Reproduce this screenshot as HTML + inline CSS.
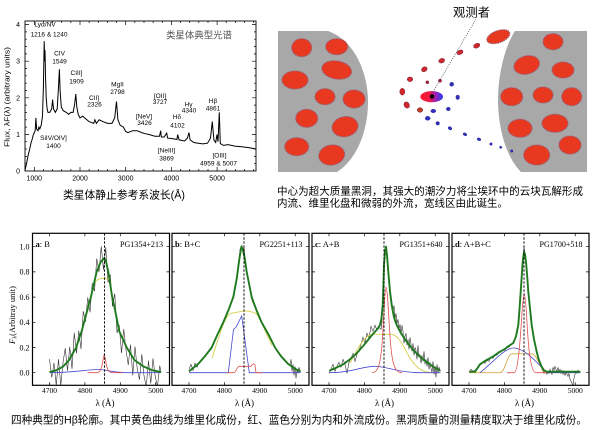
<!DOCTYPE html>
<html><head><meta charset="utf-8"><style>
html,body{margin:0;padding:0;background:#fff;}
svg{display:block;}
.cj{font-family:"Liberation Sans","Noto Sans CJK SC",sans-serif;}
.sf{font-family:"Liberation Serif","DejaVu Serif",serif;}
.ss{font-family:"Liberation Sans",sans-serif;}
</style></head><body>
<svg width="600" height="430" viewBox="0 0 600 430" xmlns="http://www.w3.org/2000/svg">
<defs>
<linearGradient id="bh" x1="0" x2="1" y1="0" y2="0">
<stop offset="0" stop-color="#ff1a2a"/><stop offset="0.4" stop-color="#ee1a40"/><stop offset="0.65" stop-color="#a020b0"/><stop offset="1" stop-color="#2040ff"/>
</linearGradient>
<clipPath id="pc"><rect x="0" y="0" width="137" height="152"/></clipPath>
</defs>
<rect width="600" height="430" fill="#fff"/>

<!-- ===== Spectrum plot ===== -->
<rect x="25" y="21" width="231" height="150" fill="none" stroke="#000" stroke-width="0.9"/>
<path d="M25.2,171v-2M43.4,171v-2M52.6,171v-2M61.7,171v-2M70.9,171v-2M89.1,171v-2M98.3,171v-2M107.4,171v-2M116.6,171v-2M134.8,171v-2M144,171v-2M153.1,171v-2M162.3,171v-2M180.5,171v-2M189.7,171v-2M198.8,171v-2M208,171v-2M226.2,171v-2M235.4,171v-2M244.5,171v-2M253.7,171v-2M34.3,171v-4M80,171v-4M125.7,171v-4M171.4,171v-4M217.1,171v-4
M43.4,21v2M52.6,21v2M61.7,21v2M70.9,21v2M89.1,21v2M98.3,21v2M107.4,21v2M116.6,21v2M134.8,21v2M144,21v2M153.1,21v2M162.3,21v2M180.5,21v2M189.7,21v2M198.8,21v2M208,21v2M226.2,21v2M235.4,21v2M244.5,21v2M253.7,21v2M34.3,21v4M80,21v4M125.7,21v4M171.4,21v4M217.1,21v4
M25,163.7h2M25,156.4h2M25,149h2M25,141.7h2M25,127.1h2M25,119.8h2M25,112.4h2M25,105.1h2M25,90.5h2M25,83.2h2M25,75.8h2M25,68.5h2M25,53.9h2M25,46.6h2M25,39.2h2M25,31.9h2M25,134.4h4M25,97.8h4M25,61.2h4M25,24.6h4
M256,163.7h-2M256,156.4h-2M256,149h-2M256,141.7h-2M256,127.1h-2M256,119.8h-2M256,112.4h-2M256,105.1h-2M256,90.5h-2M256,83.2h-2M256,75.8h-2M256,68.5h-2M256,53.9h-2M256,46.6h-2M256,39.2h-2M256,31.9h-2M256,134.4h-4M256,97.8h-4M256,61.2h-4M256,24.6h-4" stroke="#000" stroke-width="0.7" fill="none"/>
<path d="M25.2,169.2 L26.5,163.7 L27.9,156.4 L29.7,149 L31,143 L32,139.9 L33.4,134.4 L34.3,132.6 L35.2,130.7 L35.9,117.9 L36.6,128.9 L38,130.7 L38.9,127.1 L39.8,128.9 L41.2,125.3 L42.5,116.1 L43.4,86.8 L44.2,41.1 L44.6,61.2 L45,50.2 L45.5,75.8 L46.2,97.8 L47.1,108.8 L48,112.4 L49.8,112.4 L51.7,108.8 L52.6,99.6 L53.5,108.8 L55.3,112.4 L57.2,108.8 L58.5,86.8 L59.4,69.3 L60.1,90.5 L61.3,107 L63.1,110.6 L66.3,112.4 L68.6,114.3 L70.9,112.4 L73.1,112.4 L74.5,105.1 L75.8,94.1 L76.8,107 L78.2,114.3 L80,117.9 L82.7,116.1 L84.6,117.9 L89.1,121.6 L93.7,123.4 L94.9,119.8 L96.4,123.4 L99.2,119.8 L102.9,121.6 L107.4,123.4 L112,123.4 L114.7,117.9 L116.5,101.5 L117.9,119.8 L120.2,125.3 L123.4,127.1 L125.7,131.5 L128,132.6 L132.6,130.7 L137.1,130.7 L141.7,132.6 L145.2,133.7 L148.6,134.4 L154.9,136.2 L159.5,136.2 L160.7,130.7 L161.3,137 L164.1,137 L166.7,133.2 L167.6,138.1 L173.2,138.8 L176.9,139.5 L177.7,134.6 L179.1,139.9 L184.6,141 L187.4,138.1 L189,132.6 L190.1,139.9 L193.8,142.5 L198.3,143.2 L202.9,143.9 L207.5,143.2 L210.5,138.1 L212.3,121.6 L213.9,139.9 L215.7,142.5 L217,134.4 L218,141.7 L219.3,112.4 L220.3,143.6 L223.5,145.4 L228,144.6 L234.9,146.1 L241.8,146.8 L248.6,147.6 L256,149" fill="none" stroke="#000" stroke-width="1"/>
<g class="ss" font-size="7" fill="#000">
<text x="20" y="173.5" text-anchor="end">0</text>
<text x="20" y="136.9" text-anchor="end">1</text>
<text x="20" y="100.3" text-anchor="end">2</text>
<text x="20" y="63.7" text-anchor="end">3</text>
<text x="20" y="27.1" text-anchor="end">4</text>
<text x="34.3" y="180.5" text-anchor="middle">1000</text>
<text x="80" y="180.5" text-anchor="middle">2000</text>
<text x="125.7" y="180.5" text-anchor="middle">3000</text>
<text x="171.4" y="180.5" text-anchor="middle">4000</text>
<text x="217.1" y="180.5" text-anchor="middle">5000</text>
<text transform="translate(9.5,97) rotate(-90)" text-anchor="middle" textLength="100" lengthAdjust="spacingAndGlyphs">Flux, λF(λ)   (arbitrary units)</text>
</g>
<g class="ss" font-size="6.5" fill="#000" text-anchor="middle">
<text x="45" y="26.5">Lyα/NV</text><text x="49" y="36.6">1216 &amp; 1240</text>
<text x="59.5" y="55.3">CIV</text><text x="59.5" y="63.3">1549</text>
<text x="76.5" y="75">CIII]</text><text x="76.5" y="83.3">1909</text>
<text x="94" y="100">CII]</text><text x="94.5" y="106.6">2326</text>
<text x="117.5" y="86.6">MgII</text><text x="117.5" y="94">2798</text>
<text x="53.5" y="140">SiIV/OIV]</text><text x="53.5" y="148">1400</text>
<text x="160" y="98">[OII]</text><text x="160" y="104">3727</text>
<text x="144" y="118.3">[NeV]</text><text x="144.5" y="125">3426</text>
<text x="177" y="119">Hδ</text><text x="177.5" y="127.3">4102</text>
<text x="188.5" y="106.3">Hγ</text><text x="189" y="112.3">4340</text>
<text x="213" y="103">Hβ</text><text x="213" y="110.6">4861</text>
<text x="166.5" y="152.3">[NeIII]</text><text x="166.5" y="160.6">3869</text>
<text x="219.5" y="157.3">[OIII]</text><text x="218.5" y="165.6">4959 &amp; 5007</text>
</g>
<text class="cj" x="166" y="38.5" font-size="9.4" fill="#555" textLength="66" lengthAdjust="spacingAndGlyphs">类星体典型光谱</text>
<text class="cj" x="63" y="198.5" font-size="11" fill="#000" textLength="122" lengthAdjust="spacingAndGlyphs">类星体静止参考系波长(Å)</text>

<!-- ===== Diagram ===== -->
<path d="M278,31 L328,31 C354,40 368,72 368,102 C368,132 356,160 337,172 L278,172 Z" fill="#a8a8a8"/>
<path d="M587,31 L515,31 C505,46 498,74 498,100 C498,130 507,158 521,172 L587,172 Z" fill="#a8a8a8"/>
<g fill="#e8381f" stroke="#9a5a70" stroke-width="1.1" stroke-dasharray="1.4 0.9">
<ellipse cx="301.7" cy="47.7" rx="10" ry="9"/>
<ellipse cx="336.7" cy="46.7" rx="11" ry="8"/>
<ellipse cx="336.7" cy="70" rx="15" ry="9" transform="rotate(10 336.7 70)"/>
<ellipse cx="295" cy="80" rx="13" ry="9"/>
<ellipse cx="325" cy="96.7" rx="10" ry="8"/>
<ellipse cx="354" cy="99" rx="11" ry="9"/>
<ellipse cx="306.7" cy="118.3" rx="11" ry="9"/>
<ellipse cx="345" cy="126.7" rx="13" ry="10" transform="rotate(-10 345 126.7)"/>
<ellipse cx="296.7" cy="146.7" rx="12" ry="9"/>
<ellipse cx="331.7" cy="155" rx="13" ry="10" transform="rotate(-10 331.7 155)"/>
<ellipse cx="553" cy="41.7" rx="10" ry="8"/>
<ellipse cx="526.7" cy="65" rx="13" ry="9" transform="rotate(-15 526.7 65)"/>
<ellipse cx="563" cy="70" rx="11" ry="8"/>
<ellipse cx="511.7" cy="96.7" rx="11" ry="9"/>
<ellipse cx="543" cy="95" rx="10" ry="8"/>
<ellipse cx="571.7" cy="96.7" rx="10" ry="9"/>
<ellipse cx="520" cy="128.3" rx="12" ry="9"/>
<ellipse cx="555" cy="123.3" rx="13" ry="9"/>
<ellipse cx="570" cy="145" rx="11" ry="9"/>
<ellipse cx="536.7" cy="155" rx="13" ry="10"/>
<ellipse cx="498.3" cy="36.7" rx="12" ry="6" transform="rotate(-20 498.3 36.7)"/>
</g>
<g fill="#d02828" stroke="#7a2040" stroke-width="0.5">
<ellipse cx="402.3" cy="91.7" rx="2.5" ry="3.4"/>
<ellipse cx="406.7" cy="105" rx="2.6" ry="3.2" transform="rotate(-30 406.7 105)"/>
<ellipse cx="410" cy="79.3" rx="2.8" ry="2.3"/>
<ellipse cx="424.3" cy="69.3" rx="3" ry="2.3" transform="rotate(-30 424.3 69.3)"/>
<ellipse cx="441.7" cy="60.7" rx="3" ry="2.2" transform="rotate(-20 441.7 60.7)"/>
<ellipse cx="460" cy="52.3" rx="3.2" ry="2.1" transform="rotate(-25 460 52.3)"/>
<ellipse cx="476.7" cy="45.7" rx="3.3" ry="2.2" transform="rotate(-25 476.7 45.7)"/>
<ellipse cx="420" cy="110" rx="2.8" ry="2.3" fill="#c04020"/>
<circle cx="427.3" cy="82.3" r="1.5" fill="#a02030"/>
<circle cx="440" cy="80.7" r="1.6" fill="#b02030"/>
</g>
<g fill="#3030c0" stroke="#202080" stroke-width="0.4">
<ellipse cx="451.7" cy="84.3" rx="2" ry="2"/>
<ellipse cx="457.7" cy="97.3" rx="1.8" ry="2.2"/>
<ellipse cx="448.3" cy="109" rx="2" ry="1.8"/>
<ellipse cx="433.3" cy="111" rx="2.5" ry="1.8"/>
<ellipse cx="427.7" cy="118.3" rx="2.5" ry="2"/>
<ellipse cx="437.7" cy="123.3" rx="1.8" ry="1.8"/>
<ellipse cx="450" cy="128.3" rx="2" ry="1.5" transform="rotate(30 450 128.3)"/>
<ellipse cx="465" cy="134.3" rx="2" ry="1.3" transform="rotate(25 465 134.3)"/>
<ellipse cx="479" cy="139.3" rx="2" ry="1.3" transform="rotate(20 479 139.3)"/>
<circle cx="491" cy="144" r="1.3"/>
<circle cx="500.7" cy="147.3" r="1.2"/>
<circle cx="511.7" cy="151" r="1.3"/>
</g>
<ellipse cx="431.7" cy="96.7" rx="12" ry="6.2" fill="url(#bh)" stroke="#fff" stroke-width="1.3"/>
<circle cx="432" cy="96.5" r="2.2" fill="#000"/>
<path d="M433,92 L476,19" stroke="#333" stroke-width="0.6" stroke-dasharray="1.2 1.2" fill="none"/>
<text class="cj" x="453" y="16.5" font-size="12" fill="#000" textLength="37" lengthAdjust="spacingAndGlyphs">观测者</text>
<text class="cj" x="277" y="194.5" font-size="10.5" fill="#000" textLength="306" lengthAdjust="spacingAndGlyphs">中心为超大质量黑洞，其强大的潮汐力将尘埃环中的云块瓦解形成</text>
<text class="cj" x="277" y="206.5" font-size="10.5" fill="#000" textLength="231" lengthAdjust="spacingAndGlyphs">内流、维里化盘和微弱的外流，宽线区由此诞生。</text>

<!-- ===== Bottom panels ===== -->
<g class="sf" font-size="8" fill="#000">
<text x="29.5" y="375.5" text-anchor="end">0.0</text>
<text x="29.5" y="350.3" text-anchor="end">0.2</text>
<text x="29.5" y="325.1" text-anchor="end">0.4</text>
<text x="29.5" y="299.9" text-anchor="end">0.6</text>
<text x="29.5" y="274.7" text-anchor="end">0.8</text>
<text x="29.5" y="249.5" text-anchor="end">1.0</text>
<text transform="translate(15,315) rotate(-90)" text-anchor="middle" font-size="8.5"><tspan font-style="italic">F</tspan><tspan font-size="6" dy="1.5">λ</tspan><tspan dy="-1.5">(Arbitray unit)</tspan></text>
</g>

<!-- panel a -->
<g transform="translate(32.5,233.3)">
<g clip-path="url(#pc)">
<polyline fill="none" stroke="#333" stroke-width="0.6" points="17,125.8 19.25,144.2 21.5,129.6 23.75,152 26,125.8 28.25,152.5 30.5,129.3 32.75,114.9 35,137.5 37.25,113.5 39.5,135.5 41.75,99.5 44,120 46.25,97.4 48.5,115.8 50.75,78 53,88.5 55.25,64.1 57.5,79 59.75,49.8 62,57.9 64.25,25.2 66.5,38.8 68.75,13 71,36.6 73.25,14 75.5,49.2 77.75,41.2 80,73.2 82.25,60.3 84.5,99.6 86.75,91.9 89,119.8 91.25,95.8 93.5,116.7 95.75,131.7 98,111.3 100.25,142 102.5,113.2 104.75,135.8 107,146.4 109.25,121 111.5,142.4 113.75,153.4 116,127.3 118.25,150.3 120.5,125.1 122.75,143.5 125,153 127.25,132.4 128.5,138.8"/>
<path d="M60,52 C64,46 68,44.5 72,45 C75,45.5 77,47 79,50" fill="none" stroke="#d8cf48" stroke-width="0.9"/>
<path d="M17,139.4 C40,139.4 55,136.2 66,136.2 C75,136.2 80,139.4 95,139.4 L128.5,139.4" fill="none" stroke="#4848d0" stroke-width="0.8"/>
<path d="M55,139.4 L64,139.4 C67,139.4 69,137 70.3,128 L71.8,120.5 L73.3,128 C74.6,137 76.5,139.4 80,139.4 L90,139.4" fill="none" stroke="#e05050" stroke-width="0.8"/>
<polyline fill="none" stroke="#1f7a1f" stroke-width="1.9" stroke-linejoin="round" points="17,138.8 24.1,136.9 30.8,133.1 36.5,126.8 43.6,114.2 49.2,97.8 54.9,76.4 58.4,63.8 64.1,38.6 68.3,28.5 71.9,24.7 73.6,28.5 75.8,38.6 79.7,63.8 82.5,76.4 86.7,97.8 94.2,114.2 102,126.8 110.8,133.1 119.7,136.9 128.5,138.8"/>
</g>
<line x1="72" y1="0" x2="72" y2="152" stroke="#000" stroke-width="0.9" stroke-dasharray="2.5 1.5"/>
<rect x="0" y="0" width="137" height="152" fill="none" stroke="#000" stroke-width="1.2"/>
<path d="M17,152v-3M52.4,152v-3M87.8,152v-3M123.2,152v-3M17,0v3M52.4,0v3M87.8,0v3M123.2,0v3M0,139.4h3M0,114.2h3M0,89h3M0,63.8h3M0,38.6h3M0,13.4h3M137,139.4h-3M137,114.2h-3M137,89h-3M137,63.8h-3M137,38.6h-3M137,13.4h-3" stroke="#000" stroke-width="0.7"/>
<text class="sf" x="3" y="13.5" font-size="8.5"><tspan font-weight="bold">a</tspan>: B</text>
<text class="sf" x="130.5" y="13.5" font-size="8.5" text-anchor="end" textLength="43" lengthAdjust="spacingAndGlyphs">PG1354+213</text>
<g class="sf" font-size="7.5" text-anchor="middle">
<text x="17" y="159.5">4700</text><text x="52.4" y="159.5">4800</text><text x="87.8" y="159.5">4900</text><text x="123.2" y="159.5">5000</text>
<text x="72.5" y="172.5" font-size="9">λ (Å)</text>
</g>
</g>

<!-- panel b -->
<g transform="translate(172,233.3)">
<g clip-path="url(#pc)">
<polyline fill="none" stroke="#333" stroke-width="0.6" points="17,136 19,131 21,137 23,130 25,134 27,129 29,128 31,126 33,122 35,120 37,118 39,114 41,112 43,107 45,102 47,99 49,94 51,89 53,85 55,79 57,76 59,70 61,64 63,55 64,48 65,44 66,35 67,28 68,16 69,14 70,12 71,18 72,14 73,24 74,33 75,40 76,46 77,52 78,56 79,63 80,67 82,72 84,76 86,81 88,86 90,90 92,93 94,97 96,101 98,105 100,108 102,112 104,116 106,118 108,121 110,124 112,125 114,128 116,130 118,132 119,126 120,138 121,131 122,142 123,133 124,145 125,136 126,140 127,134 128.5,139"/>
<path d="M40,125 C48,100 52,86 57,81 C62,79 66,79 70,78 C74,77 78,78 84,80 C88,84 92,96 100,112" fill="none" stroke="#d8cf48" stroke-width="0.9"/>
<path d="M17,139.4 L56.3,139.4 L61.5,96 L64,94 L66.5,89 L69.7,82.7 L77.3,139.4 L128.5,139.4" fill="none" stroke="#4848d0" stroke-width="0.8"/>
<path d="M55,139.4 L62,139.4 C64,139.4 65,133 67,133 L79,133 C81,130 82,130 83,132 L84,139.4 L90,139.4" fill="none" stroke="#e05050" stroke-width="0.8"/>
<polyline fill="none" stroke="#1f7a1f" stroke-width="1.9" stroke-linejoin="round" points="17,138.1 26.2,130.6 32.9,123 39.7,114.2 45.3,101.6 51.3,89 56.6,76.4 61.3,63.8 64.8,44.9 67.3,26 69.4,13.4 70.8,15.9 72.9,26 74.7,38.6 77.2,51.2 79.7,63.8 84.3,76.4 89.6,89 96.7,101.6 103,114.2 109.1,123 116.1,130.6 123.2,135.6 128.5,138.1"/>
</g>
<line x1="72" y1="0" x2="72" y2="152" stroke="#000" stroke-width="0.9" stroke-dasharray="2.5 1.5"/>
<rect x="0" y="0" width="137" height="152" fill="none" stroke="#000" stroke-width="1.2"/>
<path d="M17,152v-3M52.4,152v-3M87.8,152v-3M123.2,152v-3M17,0v3M52.4,0v3M87.8,0v3M123.2,0v3M0,139.4h3M0,114.2h3M0,89h3M0,63.8h3M0,38.6h3M0,13.4h3M137,139.4h-3M137,114.2h-3M137,89h-3M137,63.8h-3M137,38.6h-3M137,13.4h-3" stroke="#000" stroke-width="0.7"/>
<text class="sf" x="3" y="13.5" font-size="8.5"><tspan font-weight="bold">b</tspan>: B+C</text>
<text class="sf" x="130.5" y="13.5" font-size="8.5" text-anchor="end" textLength="43" lengthAdjust="spacingAndGlyphs">PG2251+113</text>
<g class="sf" font-size="7.5" text-anchor="middle">
<text x="17" y="159.5">4700</text><text x="52.4" y="159.5">4800</text><text x="87.8" y="159.5">4900</text><text x="123.2" y="159.5">5000</text>
<text x="72.5" y="172.5" font-size="9">λ (Å)</text>
</g>
</g>

<!-- panel c -->
<g transform="translate(312,233.3)">
<g clip-path="url(#pc)">
<polyline fill="none" stroke="#333" stroke-width="0.6" points="17,140 19,136 21,131 23,138 25,133 27,129 29,134 31,126 33,131 35,140 37,129 39,125 41,120 43,128 45,121 47,117 49,111 51,104 53,110 55,100 57,105 59,93 61,98 63,92 65,97 67,94 69,96 70,88 71,65 71.8,45 72.5,28 73.3,20 74,13 75,21 76,32 77,45 78,56 79,64 80,70 81,78 82,72 83,86 84,80 85,90 86,86 87,96 88,91 89,101 90,92 91,98 92,110 93,103 94,100 95,112 96,106 97,116 98,104 99,111 100,118 101,110 102,122 103,114 104,117 105,126 106,112 107,124 108,121 109,130 110,122 111,128 112,118 113,131 114,126 115,133 116,124 117,136 118,129 119,135 120,139 121,128 122,141 123,133 124,144 125,131 126,140 127,134 128.5,138"/>
<path d="M38,130 C46,114 52,103 60,101 L80,101 C86,102 90,110 98,125 C104,134 110,139 120,139.4" fill="none" stroke="#d8cf48" stroke-width="0.9"/>
<path d="M17,139.4 C40,139.4 50,133 63,133 C75,133 85,139.4 110,139.4 L128.5,139.4" fill="none" stroke="#4848d0" stroke-width="0.8"/>
<path d="M60,139.4 C66,139.4 68,132 70,112 C72,80 73,54 74,54 C75.5,54 76.5,82 78.5,110 C80.5,132 83,139.4 90,139.4" fill="none" stroke="#e05050" stroke-width="0.8"/>
<polyline fill="none" stroke="#1f7a1f" stroke-width="1.9" stroke-linejoin="round" points="17.3,137.4 24,134.5 31.3,131 38,126 44.7,120 50,114 54.7,108.4 59,103 63,98.4 66,95 68,91.7 69.5,85 70.7,71.7 71.5,50 72,31.7 73,18 74,13.4 75,22 76.3,38.4 78,58 79.7,71.7 82,84 84.7,91.7 89,100 94.7,108.4 101,116.5 108,123.4 115,129 121.3,133.4 128,137.4"/>
</g>
<line x1="72" y1="0" x2="72" y2="152" stroke="#000" stroke-width="0.9" stroke-dasharray="2.5 1.5"/>
<rect x="0" y="0" width="137" height="152" fill="none" stroke="#000" stroke-width="1.2"/>
<path d="M17,152v-3M52.4,152v-3M87.8,152v-3M123.2,152v-3M17,0v3M52.4,0v3M87.8,0v3M123.2,0v3M0,139.4h3M0,114.2h3M0,89h3M0,63.8h3M0,38.6h3M0,13.4h3M137,139.4h-3M137,114.2h-3M137,89h-3M137,63.8h-3M137,38.6h-3M137,13.4h-3" stroke="#000" stroke-width="0.7"/>
<text class="sf" x="3" y="13.5" font-size="8.5"><tspan font-weight="bold">c</tspan>: A+B</text>
<text class="sf" x="130.5" y="13.5" font-size="8.5" text-anchor="end" textLength="43" lengthAdjust="spacingAndGlyphs">PG1351+640</text>
<g class="sf" font-size="7.5" text-anchor="middle">
<text x="17" y="159.5">4700</text><text x="52.4" y="159.5">4800</text><text x="87.8" y="159.5">4900</text><text x="123.2" y="159.5">5000</text>
<text x="72.5" y="172.5" font-size="9">λ (Å)</text>
</g>
</g>

<!-- panel d -->
<g transform="translate(452,233.3)">
<g clip-path="url(#pc)">
<polyline fill="none" stroke="#333" stroke-width="0.6" points="17,139 19,136 21,138 23,137 25,135 27,133 29,131 31,129 33,130 35,127 37,128 39,124 41,125 43,121 45,122 47,118 49,119 51,116 53,117 55,113 57,114 59,111 61,109 63,106 64.5,100 65.5,95 66.5,88 67.5,76 68.5,60 69.5,46 70.5,30 71.5,20 72,14 72.8,19 73.5,24 74.3,32 75,42 76,56 77,68 78,78 79,87 80,96 81,101 82,107 83,112 84,117 85,121 86,125 87,128 88,131 89,133 90,136 91,138 92,140 93,137 94,139 95,141 96,138 97,140 98,136 99,139 100,141 101,134 102,137 103,133 104,136 105,139 106,134 107,138 108,136 109,140 110,137 111,141 112,138 113,142 114,139 115,141 116,143 117,140 118,146 119,148 120,150 121,152 122,145 123,141 124,138 125,140 126,137 127,139 128.5,138"/>
<path d="M17.3,139.4 L48,139.4 C53,139.4 55,121 60,120.5 L80,120.5 C85,121 88,135 93,139.4" fill="none" stroke="#d8a848" stroke-width="0.9"/>
<path d="M28,139.4 C40,130 52,115 61.3,114.7 C72,114.5 84,128 94.7,139.4 L128.5,139.4" fill="none" stroke="#4848d0" stroke-width="0.8"/>
<path d="M55,139.4 L62,139.4 C66,139.4 68,110 70,80 C71,66 71.8,61 72.3,61 C72.8,61 73.5,66 74.5,80 C76,110 78,139.4 84,139.4 L95,139.4" fill="none" stroke="#e05050" stroke-width="0.8"/>
<polyline fill="none" stroke="#1f7a1f" stroke-width="1.9" stroke-linejoin="round" points="17.3,138.4 23,138.4 28,131 34,127 41.3,123 47,119 53,115.6 57,112.5 61.3,109.7 64,103 66.3,91.7 67.5,76 68.7,58.4 69.8,42 70.7,28.4 72,18.4 73,21 74,28.4 75.2,43 76.3,58.4 78,75 79.7,91.7 82,106 84.7,118.4 87,127 89.7,133.4 92,137 94.7,138.4 128,138.4"/>
</g>
<line x1="72" y1="0" x2="72" y2="152" stroke="#000" stroke-width="0.9" stroke-dasharray="2.5 1.5"/>
<rect x="0" y="0" width="137" height="152" fill="none" stroke="#000" stroke-width="1.2"/>
<path d="M17,152v-3M52.4,152v-3M87.8,152v-3M123.2,152v-3M17,0v3M52.4,0v3M87.8,0v3M123.2,0v3M0,139.4h3M0,114.2h3M0,89h3M0,63.8h3M0,38.6h3M0,13.4h3M137,139.4h-3M137,114.2h-3M137,89h-3M137,63.8h-3M137,38.6h-3M137,13.4h-3" stroke="#000" stroke-width="0.7"/>
<text class="sf" x="3" y="13.5" font-size="8.5"><tspan font-weight="bold">d</tspan>: A+B+C</text>
<text class="sf" x="130.5" y="13.5" font-size="8.5" text-anchor="end" textLength="43" lengthAdjust="spacingAndGlyphs">PG1700+518</text>
<g class="sf" font-size="7.5" text-anchor="middle">
<text x="17" y="159.5">4700</text><text x="52.4" y="159.5">4800</text><text x="87.8" y="159.5">4900</text><text x="123.2" y="159.5">5000</text>
<text x="72.5" y="172.5" font-size="9">λ (Å)</text>
</g>
</g>

<text class="cj" x="11" y="423.3" font-size="10.8" fill="#000" textLength="576" lengthAdjust="spacingAndGlyphs">四种典型的Hβ轮廓。其中黄色曲线为维里化成份，红、蓝色分别为内和外流成份。黑洞质量的测量精度取决于维里化成份。</text>
</svg>
</body></html>
